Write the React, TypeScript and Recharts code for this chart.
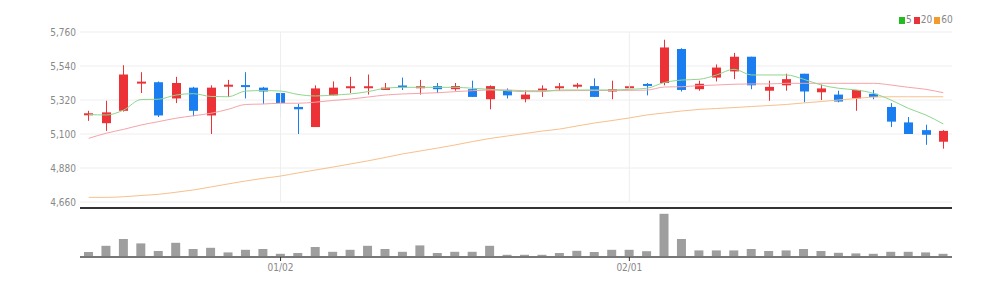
import { ComposedChart, Bar, Line, XAxis, YAxis, CartesianGrid, ReferenceLine } from 'recharts';

const dates = [
  '12/15', '12/16', '12/19', '12/20', '12/21', '12/22', '12/23', '12/26', '12/27', '12/28', '12/29',
  '01/02', '01/03', '01/04', '01/05', '01/06', '01/09', '01/10', '01/11', '01/12', '01/13',
  '01/16', '01/17', '01/18', '01/19', '01/20', '01/25', '01/26', '01/27', '01/30', '01/31',
  '02/01', '02/02', '02/03', '02/06', '02/07', '02/08', '02/09', '02/10', '02/13', '02/14',
  '02/15', '02/16', '02/17', '02/20', '02/21', '02/22', '02/23', '02/24', '02/27',
];

const opens = [
  5225, 5170, 5250, 5430, 5435, 5330, 5400, 5220, 5410, 5415, 5400,
  5365, 5275, 5145, 5350, 5400, 5400, 5385, 5410, 5400, 5410,
  5390, 5390, 5325, 5385, 5325, 5385, 5400, 5410, 5410, 5375,
  5400, 5420, 5430, 5650, 5390, 5465, 5505, 5600, 5380, 5415,
  5490, 5370, 5355, 5330, 5360, 5275, 5175, 5125, 5050,
];
const highs = [
  5250, 5315, 5545, 5500, 5440, 5470, 5405, 5415, 5450, 5500, 5405,
  5425, 5295, 5415, 5440, 5470, 5485, 5430, 5465, 5450, 5430,
  5430, 5445, 5415, 5395, 5385, 5415, 5430, 5430, 5460, 5445,
  5430, 5430, 5710, 5655, 5445, 5550, 5625, 5600, 5445, 5490,
  5490, 5420, 5380, 5385, 5385, 5300, 5210, 5160, 5125,
];
const lows = [
  5185, 5120, 5245, 5365, 5210, 5300, 5215, 5100, 5340, 5330, 5295,
  5210, 5100, 5145, 5350, 5365, 5355, 5385, 5385, 5355, 5365,
  5380, 5340, 5260, 5330, 5305, 5340, 5380, 5395, 5340, 5325,
  5380, 5350, 5415, 5375, 5380, 5440, 5455, 5390, 5315, 5380,
  5305, 5320, 5305, 5250, 5325, 5145, 5100, 5030, 5005,
];
const closes = [
  5230, 5240, 5485, 5435, 5220, 5430, 5250, 5400, 5415, 5405, 5375,
  5300, 5260, 5395, 5400, 5405, 5405, 5400, 5405, 5405, 5390,
  5410, 5340, 5410, 5350, 5355, 5390, 5405, 5415, 5340, 5390,
  5405, 5415, 5660, 5385, 5425, 5530, 5600, 5415, 5405, 5455,
  5375, 5395, 5310, 5385, 5340, 5180, 5100, 5095, 5120,
];

const ma5 = [
  5226, 5223, 5255, 5323, 5325, 5352, 5361, 5343, 5341, 5378, 5381,
  5378, 5356, 5346, 5352, 5359, 5374, 5396, 5402, 5402, 5402,
  5402, 5396, 5389, 5380, 5374, 5374, 5385, 5385, 5385, 5385,
  5389, 5396, 5433, 5449, 5454, 5482, 5519, 5482, 5482, 5482,
  5454, 5417, 5396, 5385, 5363, 5320, 5266, 5223, 5165,
];
const ma20 = [
  5072, 5105, 5130, 5158, 5180, 5202, 5218, 5234, 5260, 5291, 5294,
  5299, 5299, 5306, 5317, 5326, 5339, 5352, 5359, 5363, 5367,
  5374, 5380, 5385, 5385, 5380, 5380, 5380, 5381, 5381, 5382,
  5382, 5384, 5404, 5406, 5413, 5417, 5422, 5424, 5424, 5428,
  5428, 5428, 5428, 5428, 5428, 5417, 5402, 5389, 5367,
];
const ma60 = [
  4690, 4690, 4694, 4702, 4710, 4723, 4738, 4757, 4777, 4796, 4813,
  4828, 4848, 4867, 4886, 4906, 4926, 4948, 4971, 4990, 5009,
  5029, 5051, 5071, 5087, 5103, 5119, 5132, 5152, 5171, 5187,
  5204, 5223, 5236, 5249, 5259, 5265, 5271, 5278, 5284, 5291,
  5301, 5310, 5320, 5330, 5339, 5341, 5341, 5341, 5341,
];
const volumes = [
  25000, 56000, 90000, 68000, 30000, 71000, 40000, 46000, 23000, 36000, 40000,
  16000, 20000, 50000, 26000, 36000, 56000, 40000, 26000, 58000, 20000,
  26000, 26000, 56000, 11000, 11000, 11000, 20000, 31000, 25000, 36000,
  36000, 29000, 216000, 90000, 33000, 33000, 33000, 40000, 30000, 33000,
  40000, 30000, 21000, 18000, 16000, 26000, 26000, 23000, 16000,
];

const priceTicks = [4660, 4880, 5100, 5320, 5540, 5760];
const dateTicks = ['01/02', '02/01'];
const legendItems = [
  { label: '5', color: '#22bb22' },
  { label: '20', color: '#e8333a' },
  { label: '60', color: '#f39a2d' },
];

const UP = '#ec3237';
const DOWN = '#1a7ef0';
const FONT = '"Liberation Sans Narrow", "DejaVu Sans Condensed", Roboto, sans-serif';

const chartData = dates.map((date, i) => ({
  date,
  open: opens[i],
  high: highs[i],
  low: lows[i],
  close: closes[i],
  ma5: ma5[i],
  ma20: ma20[i],
  ma60: ma60[i],
  volume: volumes[i],
}));

function Candle(props: any) {
  const { x, y, width, height, payload } = props;
  const { open, high, low, close } = payload;
  const top = Math.min(y, y + height);
  const ratio = Math.abs(height) / (high - low || 1);
  const yOf = (v: number) => top + (high - v) * ratio;
  const color = close >= open ? UP : DOWN;
  const cx = Math.round(x + width / 2) + 0.5;
  let bodyTop = yOf(Math.max(open, close));
  let bodyH = yOf(Math.min(open, close)) - bodyTop;
  if (bodyH < 2) {
    bodyTop -= (2 - bodyH) / 2;
    bodyH = 2;
  }
  return (
    <g>
      <line x1={cx} x2={cx} y1={yOf(high)} y2={yOf(low)} stroke={color} strokeWidth={1} />
      <rect x={cx - 4.5} y={bodyTop} width={9} height={bodyH} fill={color} />
    </g>
  );
}

function MaLegend() {
  return (
    <div style={{ position: 'absolute', top: 14, left: 899, display: 'flex', gap: 2, fontFamily: FONT, fontSize: 10, color: '#888', lineHeight: '12px' }}>
      {legendItems.map(item => (
        <div key={item.label} style={{ display: 'flex', alignItems: 'center', gap: 1 }}>
          <span style={{ width: 6, height: 7, background: item.color, display: 'inline-block' }} />
          <span>{item.label}</span>
        </div>
      ))}
    </div>
  );
}

export default function App() {
  return (
    <div style={{ position: 'absolute', top: 0, left: 0, width: 1007, height: 289, background: '#fff' }}>
      <ComposedChart width={1007} height={210} data={chartData} margin={{ top: 32, right: 55, bottom: 8, left: 30 }}>
        <CartesianGrid stroke="#eeeeee" vertical={false} />
        <XAxis dataKey="date" hide />
        <YAxis
          domain={[4660, 5760]}
          ticks={priceTicks}
          interval={0}
          width={50}
          allowDataOverflow
          axisLine={false}
          tickLine={false}
          tickSize={2}
          tickMargin={2}
          tick={{ fontSize: 10, fill: '#888', fontFamily: FONT }}
          tickFormatter={(value: number) => value.toLocaleString('en-US')}
        />
        {dateTicks.map(d => (
          <ReferenceLine key={d} x={d} stroke="#eeeeee" />
        ))}
        <Line type="monotone" dataKey="ma60" stroke="#f8c08c" strokeWidth={1} dot={false} isAnimationActive={false} />
        <Line type="monotone" dataKey="ma20" stroke="#f5a3aa" strokeWidth={1} dot={false} isAnimationActive={false} />
        <Line type="monotone" dataKey="ma5" stroke="#8fd68f" strokeWidth={1} dot={false} isAnimationActive={false} />
        <Bar
          dataKey={(d: any) => [d.low, d.high]}
          shape={<Candle />}
          barSize={9}
          isAnimationActive={false}
        />
      </ComposedChart>
      <div style={{ position: 'absolute', top: 202, left: 0 }}>
        <ComposedChart width={1007} height={87} data={chartData} margin={{ top: 5, right: 55, bottom: 2, left: 80 }}>
          <XAxis
            xAxisId="top"
            orientation="top"
            dataKey="date"
            height={1}
            tick={false}
            tickLine={false}
            axisLine={{ stroke: '#333', strokeWidth: 2 }}
          />
          <XAxis
            dataKey="date"
            ticks={dateTicks}
            interval={0}
            height={30}
            tickSize={4}
            tickMargin={3}
            tickLine={{ stroke: '#333' }}
            axisLine={{ stroke: '#777', strokeWidth: 2 }}
            tick={{ fontSize: 10, fill: '#888', fontFamily: FONT }}
          />
          <YAxis hide domain={[0, 245000]} />
          <Bar dataKey="volume" fill="#9e9e9e" barSize={9} isAnimationActive={false} />
        </ComposedChart>
      </div>
      <MaLegend />
    </div>
  );
}
